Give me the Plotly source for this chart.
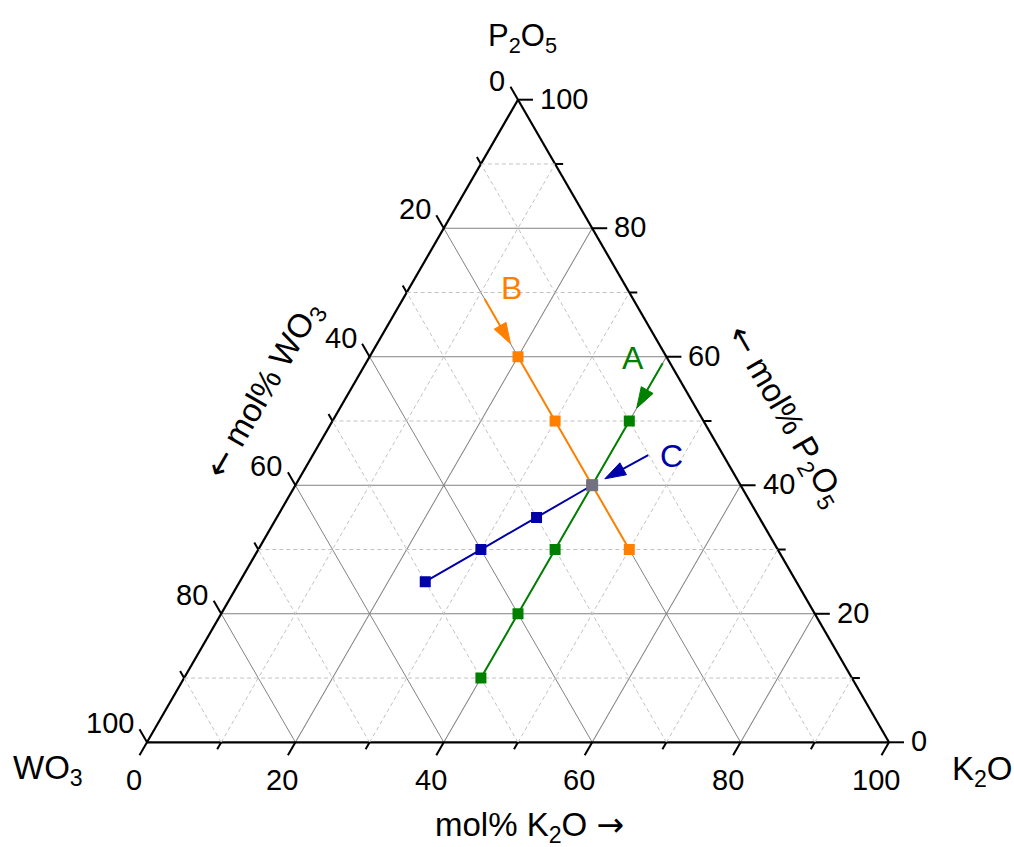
import math
import plotly.graph_objects as go

# ---------------- data (mol%) ----------------
A_P2O5 = [50, 40, 30, 20, 10]
A_K2O = [40, 40, 40, 40, 40]
A_WO3 = [10, 20, 30, 40, 50]

B_P2O5 = [60, 50, 40, 30]
B_K2O = [20, 30, 40, 50]
B_WO3 = [20, 20, 20, 20]

C_P2O5 = [40, 35, 30, 25]
C_K2O = [40, 35, 30, 25]
C_WO3 = [20, 30, 40, 50]

common_P2O5 = [40]
common_K2O = [40]
common_WO3 = [20]

arrowA_P2O5 = [59, 52]
arrowA_K2O = [40, 40]
arrowA_WO3 = [1, 8]

arrowB_P2O5 = [69, 62]
arrowB_K2O = [11, 18]
arrowB_WO3 = [20, 20]

arrowC_P2O5 = [44.7, 41]
arrowC_K2O = [45.2, 41.2]
arrowC_WO3 = [10.1, 17.8]

series_labels = ["A", "B", "C"]
major_ticks = [0, 20, 40, 60, 80, 100]
minor_ticks = [10, 30, 50, 70, 90]
tick_labels = ["0", "20", "40", "60", "80", "100"]

# ---------------- styles / geometry ----------------
GREEN, ORANGE, BLUE, GRAY = "#008000", "#FF8000", "#0000A8", "#828282"
FONT = "Liberation Sans, Arial, sans-serif"
W_FIG, H_FIG = 1014, 847
M_L, M_R, M_T, M_B = 147, 125, 99, 104
PLOT_W = W_FIG - M_L - M_R
PLOT_H = H_FIG - M_T - M_B
SQ3 = math.sqrt(3)
SIDE = min(PLOT_W, PLOT_H * 2 / SQ3)        # triangle side in px (as plotly sizes it)
TRI_H = SIDE * SQ3 / 2
X0 = M_L + (PLOT_W - SIDE) / 2
Y_BASE = M_T + (PLOT_H + TRI_H) / 2         # pixel y of the bottom edge
UNIT = SIDE / 100.0


def tern_px(p, k):
    """ternary composition (P2O5, K2O) -> screen pixel of the ternary subplot"""
    return X0 + UNIT * (k + p / 2), Y_BASE - UNIT * SQ3 / 2 * p


def to_paper(px, py):
    return (px - M_L) / PLOT_W, (H_FIG - M_B - py) / PLOT_H


def tern_paper(p, k, dx=0, dy=0):
    px, py = tern_px(p, k)
    return to_paper(px + dx, py + dy)


fig = go.Figure()

# minor (dashed) grid
ga, gb, gc = [], [], []
for v in minor_ticks:
    ga += [v, v, None]; gc += [0, 100 - v, None]; gb += [100 - v, 0, None]
    gc += [v, v, None]; ga += [0, 100 - v, None]; gb += [100 - v, 0, None]
    gb += [v, v, None]; ga += [0, 100 - v, None]; gc += [100 - v, 0, None]
fig.add_trace(go.Scatterternary(a=ga, b=gb, c=gc, mode="lines",
                                line=dict(color="#c2c2c2", width=1, dash="4px,3px"),
                                hoverinfo="skip", showlegend=False))

# series
for P, K, W, col in ((A_P2O5, A_K2O, A_WO3, GREEN),
                     (B_P2O5, B_K2O, B_WO3, ORANGE),
                     (C_P2O5, C_K2O, C_WO3, BLUE)):
    fig.add_trace(go.Scatterternary(a=P, b=W, c=K, mode="lines+markers",
                                    line=dict(color=col, width=2),
                                    marker=dict(symbol="square", size=11, color=col, opacity=1),
                                    showlegend=False))

fig.add_trace(go.Scatterternary(a=common_P2O5, b=common_WO3, c=common_K2O, mode="markers",
                                marker=dict(symbol="square", size=12, color="#7d7d7d",
                                            opacity=0.9),
                                showlegend=False))

# arrows and their letters
for P, K, W, col, txt, off in ((arrowA_P2O5, arrowA_K2O, arrowA_WO3, GREEN, series_labels[0], (-30, -5)),
                               (arrowB_P2O5, arrowB_K2O, arrowB_WO3, ORANGE, series_labels[1], (27, -11)),
                               (arrowC_P2O5, arrowC_K2O, arrowC_WO3, BLUE, series_labels[2], (23, 1))):
    fig.add_trace(go.Scatterternary(a=P, b=W, c=K, mode="lines+markers",
                                    line=dict(color=col, width=2),
                                    marker=dict(symbol="arrow", size=[0, 22], color=col,
                                                opacity=1, angleref="previous",
                                                line=dict(color=col, width=1)),
                                    showlegend=False))
    x, y = tern_paper(P[0], K[0], off[0], off[1])
    fig.add_annotation(text=txt, x=x, y=y, xref="paper", yref="paper",
                       xanchor="center", yanchor="middle", showarrow=False,
                       font=dict(size=32, color=col, family=FONT))

# ticks (Origin style: drawn along the grid directions, outward)
def tick_shapes(values, length):
    d = length
    for v in values:
        # bottom edge, K2O = v : down-left
        x0, y0 = tern_px(0, v)
        yield x0, y0, x0 - d / 2, y0 + d * SQ3 / 2
        # left edge, WO3 = v : up-left
        x0, y0 = tern_px(100 - v, 0)
        yield x0, y0, x0 - d / 2, y0 - d * SQ3 / 2
        # right edge, P2O5 = v : right
        x0, y0 = tern_px(v, 100 - v)
        yield x0, y0, x0 + d, y0

for vals, ln in ((major_ticks, 15), (minor_ticks, 8)):
    for x0, y0, x1, y1 in tick_shapes(vals, ln):
        a0, b0 = to_paper(x0, y0)
        a1, b1 = to_paper(x1, y1)
        fig.add_shape(type="line", xref="paper", yref="paper", x0=a0, y0=b0, x1=a1, y1=b1,
                      line=dict(color="black", width=2))

# tick labels
TICKFONT = dict(size=29, color="black", family=FONT)
for v, lab in zip(major_ticks, tick_labels):
    # bottom: mol% K2O
    x, y = tern_paper(0, v, -13, 38)
    fig.add_annotation(text=lab, x=x, y=y, xref="paper", yref="paper", showarrow=False,
                       xanchor="center", yanchor="middle", font=TICKFONT)
    # left: mol% WO3 (WO3 = v on the left edge)
    x, y = tern_paper(100 - v, 0, -11, -19)
    fig.add_annotation(text=lab, x=x, y=y, xref="paper", yref="paper", showarrow=False,
                       xanchor="right", yanchor="middle", font=TICKFONT)
    # right: mol% P2O5 (P2O5 = v on the right edge)
    x, y = tern_paper(v, 100 - v, 20, -1)
    fig.add_annotation(text=lab, x=x, y=y, xref="paper", yref="paper", showarrow=False,
                       xanchor="left", yanchor="middle", font=TICKFONT)

axis_style = dict(showline=True, linecolor="black", linewidth=2.2,
                  showgrid=True, gridcolor=GRAY, gridwidth=1,
                  tickmode="array", tickvals=major_ticks[1:-1],
                  showticklabels=False, ticks="", layer="below traces",
                  min=0, title=dict(text=""))

fig.update_layout(
    width=W_FIG, height=H_FIG,
    margin=dict(l=M_L, r=M_R, t=M_T, b=M_B, pad=0),
    paper_bgcolor="white", plot_bgcolor="white",
    font=dict(family=FONT, color="black"),
    ternary=dict(sum=100, bgcolor="white",
                 domain=dict(x=[0, 1], y=[0, 1]),
                 aaxis=axis_style, baxis=axis_style, caxis=axis_style),
    showlegend=False,
)

ARW_R = "<span style='font-family:DejaVu Sans'>→</span>"
ARW_L = "<span style='font-family:DejaVu Sans'>←</span>"
titles = [
    ("P<sub>2</sub>O<sub>5</sub>", 522, 38, 0, 31),
    ("WO<sub>3</sub>", 48, 770, 0, 33),
    ("K<sub>2</sub>O", 982, 771, 0, 33),
    ("mol% K<sub>2</sub>O " + ARW_R, 529, 826, 0, 33),
    (ARW_L + " mol% WO<sub>3</sub>", 264, 390, -60, 33),
    (ARW_L + " mol% P<sub>2</sub>O<sub>5</sub>", 786, 416, 60, 33),
]
for txt, px, py, ang, fs in titles:
    x, y = to_paper(px, py)
    fig.add_annotation(text=txt, x=x, y=y, xref="paper", yref="paper",
                       xanchor="center", yanchor="middle", showarrow=False,
                       textangle=ang, font=dict(size=fs, color="black", family=FONT))

fig.write_html("out.html")
